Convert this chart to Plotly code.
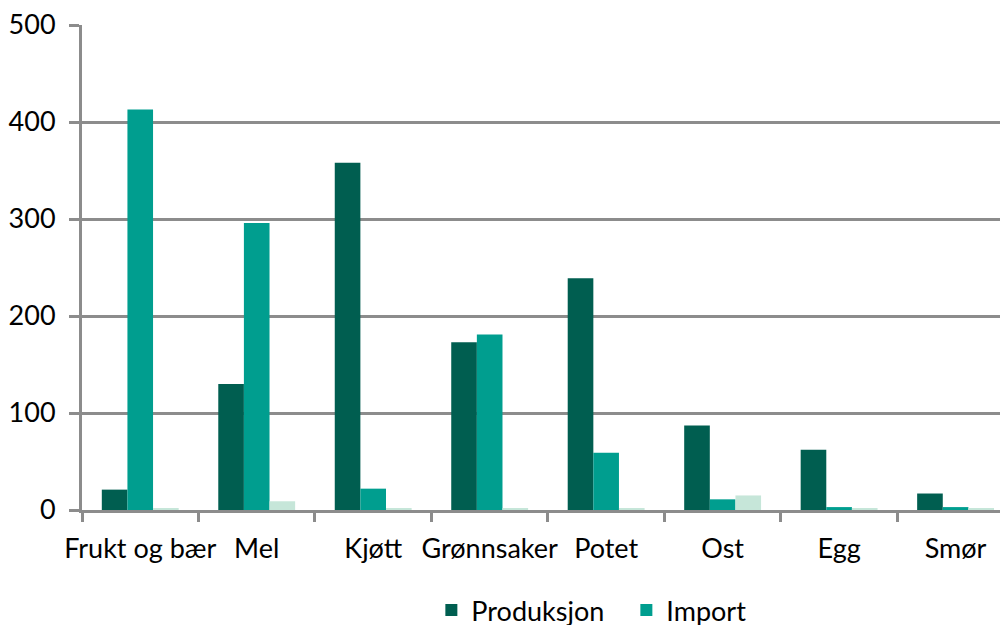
import plotly.graph_objects as go

categories = ["Frukt og bær", "Mel", "Kjøtt", "Grønnsaker", "Potet", "Ost", "Egg", "Smør"]
produksjon = [21, 130, 358, 173, 239, 87, 62, 17]
import_ = [413, 296, 22, 181, 59, 11, 3, 3]
eksport = [2, 9, 2, 2, 2, 15, 2, 2]
y_ticks = [0, 100, 200, 300, 400, 500]

FONT = "Lato"
GRID = "#8c8c8c"

fig = go.Figure()
fig.add_trace(go.Bar(name="Produksjon", x=categories, y=produksjon, marker_color="#005E50", marker_line_width=0))
fig.add_trace(go.Bar(name="Import", x=categories, y=import_, marker_color="#009E8F", marker_line_width=0))
fig.add_trace(go.Bar(name="Eksport", x=categories, y=eksport, marker_color="#C6E6D9", marker_line_width=0, showlegend=False))

fig.update_layout(
    width=1008, height=625,
    margin=dict(l=74, r=8, t=17, b=123, autoexpand=False),
    paper_bgcolor="white", plot_bgcolor="white",
    barmode="group", bargap=0.34, bargroupgap=0,
    font=dict(family=FONT, size=27, color="#000000"),
    legend=dict(orientation="h", xref="container", yref="container", x=0.42, y=0.036,
                xanchor="left", yanchor="middle", font=dict(size=27), itemwidth=30,
                entrywidth=150, entrywidthmode="pixels", traceorder="normal"),
    showlegend=True,
)
fig.update_xaxes(
    range=[-0.5, 7.45], showgrid=False, showline=True, linecolor=GRID, linewidth=3,
    ticks="outside", tickson="boundaries", ticklen=9, tickwidth=3, tickcolor=GRID,
    ticklabelstandoff=13, tickfont=dict(size=27), tickangle=0, automargin=False,
    ticklabeloverflow="allow",
)
fig.update_yaxes(
    range=[0, 500], tickvals=y_ticks, showgrid=True, gridcolor=GRID, gridwidth=2.5,
    showline=True, linecolor=GRID, linewidth=3, ticks="outside", ticklen=10, tickwidth=3,
    tickcolor=GRID, zeroline=False, ticklabelstandoff=8, tickfont=dict(size=27), automargin=False,
    ticklabeloverflow="allow",
)
fig.write_html("out.html")
